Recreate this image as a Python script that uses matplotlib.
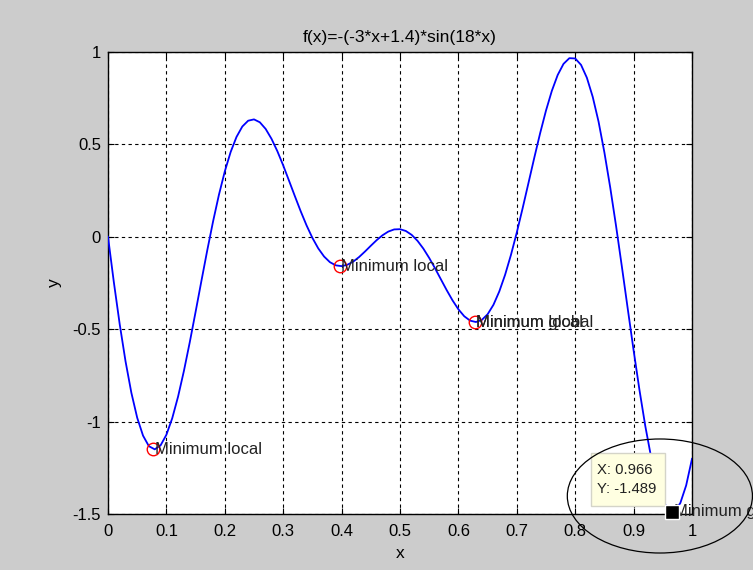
import matplotlib
matplotlib.use("Agg")
import matplotlib.pyplot as plt
from matplotlib.patches import Ellipse, Rectangle

plt.rcParams['font.family'] = ['Liberation Sans', 'DejaVu Sans']

title = "f(x)=-(-3*x+1.4)*sin(18*x)"
x_vals = [0.00, 0.01, 0.02, 0.03, 0.04, 0.05, 0.06, 0.07, 0.08, 0.09,
          0.10, 0.11, 0.12, 0.13, 0.14, 0.15, 0.16, 0.17, 0.18, 0.19,
          0.20, 0.21, 0.22, 0.23, 0.24, 0.25, 0.26, 0.27, 0.28, 0.29,
          0.30, 0.31, 0.32, 0.33, 0.34, 0.35, 0.36, 0.37, 0.38, 0.39,
          0.40, 0.41, 0.42, 0.43, 0.44, 0.45, 0.46, 0.47, 0.48, 0.49,
          0.50, 0.51, 0.52, 0.53, 0.54, 0.55, 0.56, 0.57, 0.58, 0.59,
          0.60, 0.61, 0.62, 0.63, 0.64, 0.65, 0.66, 0.67, 0.68, 0.69,
          0.70, 0.71, 0.72, 0.73, 0.74, 0.75, 0.76, 0.77, 0.78, 0.79,
          0.80, 0.81, 0.82, 0.83, 0.84, 0.85, 0.86, 0.87, 0.88, 0.89,
          0.90, 0.91, 0.92, 0.93, 0.94, 0.95, 0.96, 0.966, 0.97, 0.98,
          0.99, 1.00]
y_vals = [0.0000, -0.2453, -0.4720, -0.6735, -0.8440, -0.9792, -1.0760, -1.1330, -1.1501, -1.1287,
          -1.0712, -0.9817, -0.8646, -0.7256, -0.5707, -0.4060, -0.2379, -0.0725, 0.0845, 0.2281,
          0.3540, 0.4588, 0.5402, 0.5968, 0.6282, 0.6354, 0.6197, 0.5835, 0.5301, 0.4632,
          0.3864, 0.3034, 0.2198, 0.1379, 0.0617, -0.0059, -0.0626, -0.1067, -0.1374, -0.1545,
          -0.1587, -0.1513, -0.1340, -0.1093, -0.0798, -0.0485, -0.0182, 0.0082, 0.0283, 0.0399,
          0.0412, 0.0315, 0.0104, -0.0218, -0.0640, -0.1144, -0.1706, -0.2299, -0.2889, -0.3442,
          -0.3924, -0.4299, -0.4537, -0.4611, -0.4501, -0.4193, -0.3681, -0.2959, -0.2052, -0.0978,
          0.0235, 0.1548, 0.2915, 0.4287, 0.5611, 0.6832, 0.7897, 0.8755, 0.9358, 0.9666,
          0.9650, 0.9303, 0.8606, 0.7573, 0.6231, 0.4564, 0.2664, 0.0580, -0.1633, -0.3899,
          -0.6142, -0.8280, -1.0236, -1.1928, -1.3296, -1.4268, -1.4800, -1.4890, -1.4854, -1.4407,
          -1.3453, -1.2015]

local_min_x = [0.0778, 0.3967, 0.6278]
local_min_y = [-1.1506, -0.1589, -0.4614]
local_labels = ["Minimum local", "Minimum local", "Minimum local"]
global_min_x = [0.6278, 0.966]
global_min_y = [-0.4614, -1.489]
global_labels = ["Minimum global", "Minimum global"]
tip_x = 0.966
tip_y = -1.489

x_ticks = [0, 0.1, 0.2, 0.3, 0.4, 0.5, 0.6, 0.7, 0.8, 0.9, 1]
x_tick_labels = ["0", "0.1", "0.2", "0.3", "0.4", "0.5", "0.6", "0.7", "0.8", "0.9", "1"]
y_ticks = [-1.5, -1, -0.5, 0, 0.5, 1]
y_tick_labels = ["-1.5", "-1", "-0.5", "0", "0.5", "1"]

fig = plt.figure(figsize=(7.53, 5.70), dpi=100, facecolor="#cccccc")
ax = fig.add_axes([108/753, 56/570, 584/753, 462/570])
ax.set_facecolor("white")

ax.plot(x_vals, y_vals, color="#0000ff", lw=1.3, zorder=3)

ax.plot(local_min_x, local_min_y, 'o', mfc='none', mec='red', ms=9, mew=1, zorder=4)
for xm, ym, lab in zip(local_min_x, local_min_y, local_labels):
    ax.text(xm + 0.003, ym, lab, ha='left', va='center', fontsize=12, color='#222222', zorder=5, clip_on=False)
for xm, ym, lab in zip(global_min_x, global_min_y, global_labels):
    ax.text(xm + 0.003, ym, lab, ha='left', va='center', fontsize=12, color='#222222', zorder=5, clip_on=False)

# data tip box
ax.add_patch(Rectangle((0.827, -1.457), 0.127, 0.287, fc='#ffffe1', ec='#d4d4c8', lw=1,
                       zorder=6, clip_on=False))
ax.text(0.837, -1.262, "X: %.3f" % tip_x, ha='left', va='center', fontsize=10.7, color='#222222', zorder=7)
ax.text(0.837, -1.365, "Y: %.3f" % tip_y, ha='left', va='center', fontsize=10.7, color='#222222', zorder=7)
ax.plot([tip_x], [tip_y], 's', color='black', mec='white', mew=1, ms=10, zorder=7, clip_on=False)

ell = Ellipse((0.945, -1.4026), 0.317, 0.617, fill=False, ec='black', lw=0.9, zorder=8, clip_on=False)
ax.add_patch(ell)

ax.set_xlim(0, 1)
ax.set_ylim(-1.5, 1)
ax.set_xticks(x_ticks)
ax.set_xticklabels(x_tick_labels)
ax.set_yticks(y_ticks)
ax.set_yticklabels(y_tick_labels)
ax.tick_params(direction='in', length=4, width=0.8, labelsize=12, colors='black', top=True, right=True)
ax.tick_params(axis='x', pad=7.5)
ax.tick_params(axis='y', pad=5)
ax.grid(True, color='black', linestyle=(0, (3, 3)), lw=0.8)
for s in ax.spines.values():
    s.set_linewidth(1)
    s.set_color('black')
ax.set_title(title, fontsize=12.5, pad=7)
ax.set_xlabel("x", fontsize=12.5, labelpad=5)
ax.set_ylabel("y", fontsize=12.5, labelpad=8)

fig.savefig("out.png", dpi=100, facecolor=fig.get_facecolor())
